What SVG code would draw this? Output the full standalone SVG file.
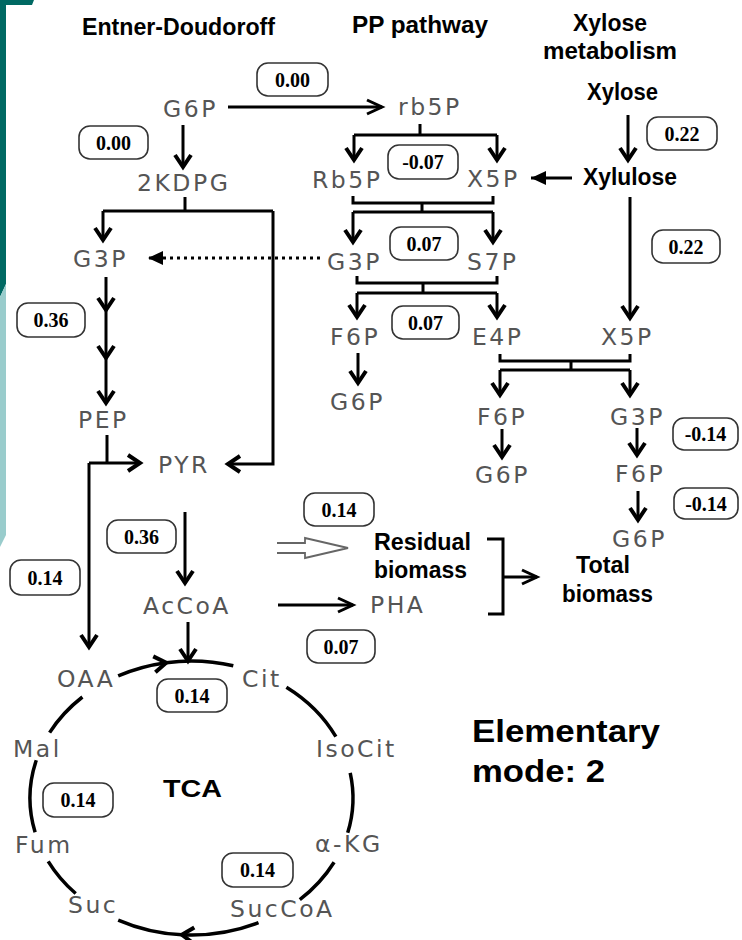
<svg xmlns="http://www.w3.org/2000/svg" width="742" height="940" viewBox="0 0 742 940">
<defs>
<style>
.hdr{font-family:"Liberation Sans",Arial,sans-serif;font-weight:bold;font-size:23px;fill:#000}
.met{font-family:"DejaVu Sans","Liberation Sans",sans-serif;font-size:23.5px;fill:#555;letter-spacing:2.5px}
.val{font-family:"Liberation Serif","Times New Roman",serif;font-weight:bold;font-size:20px;fill:#000;text-anchor:middle}
.box{fill:#fff;stroke:#333;stroke-width:1.6}
.ln{fill:none;stroke:#000;stroke-width:3}
.arc{fill:none;stroke:#000;stroke-width:3.5}
</style>
<marker id="hd" markerUnits="userSpaceOnUse" markerWidth="30" markerHeight="30" orient="auto" overflow="visible" refX="0" refY="0"><path d="M-12,-8 L0,0 L-12,8" fill="none" stroke="#000" stroke-width="4"/></marker>
<marker id="thin" markerUnits="userSpaceOnUse" markerWidth="30" markerHeight="30" orient="auto" overflow="visible" refX="0" refY="0"><path d="M-15,-7 L0,0 L-15,7" fill="none" stroke="#000" stroke-width="3"/></marker>
<marker id="tri" markerUnits="userSpaceOnUse" markerWidth="30" markerHeight="30" orient="auto" overflow="visible" refX="0" refY="0"><path d="M-15,-7 L0,0 L-15,7 Z" fill="#000"/></marker>
</defs>
<rect width="742" height="940" fill="#fff"/>
<path d="M0,0 H34 L32,5 H6 V284 L0,297 Z" fill="#006963"/>
<path d="M0,297 L6,284 V535 L0,547 Z" fill="#99cccc"/>

<g id="headers">
<text class="hdr" x="82" y="35" textLength="193" lengthAdjust="spacingAndGlyphs">Entner-Doudoroff</text>
<text class="hdr" x="352" y="33" textLength="136" lengthAdjust="spacingAndGlyphs">PP pathway</text>
<text class="hdr" x="573" y="31" textLength="74" lengthAdjust="spacingAndGlyphs">Xylose</text>
<text class="hdr" x="543" y="59" textLength="134" lengthAdjust="spacingAndGlyphs">metabolism</text>
</g>

<g id="connectors">
<line class="ln" x1="228" y1="107" x2="382" y2="107" marker-end="url(#thin)"/>
<line class="ln" x1="183" y1="125" x2="183" y2="167" marker-end="url(#hd)"/>
<path class="ln" d="M420,124 V135 M354,135 H497"/>
<line class="ln" x1="354" y1="135" x2="354" y2="160" marker-end="url(#hd)"/>
<line class="ln" x1="497" y1="135" x2="497" y2="160" marker-end="url(#hd)"/>
<line class="ln" x1="628" y1="115" x2="628" y2="160" marker-end="url(#hd)"/>
<line class="ln" x1="572" y1="178" x2="531" y2="178" marker-end="url(#tri)"/>
<path class="ln" d="M353,196 V203 H493 V196 M422,203 V212 M353,212 H493"/>
<line class="ln" x1="353" y1="212" x2="353" y2="242" marker-end="url(#hd)"/>
<line class="ln" x1="493" y1="212" x2="493" y2="242" marker-end="url(#hd)"/>
<line x1="320" y1="258" x2="148" y2="258" stroke="#000" stroke-width="3" stroke-dasharray="3 4" marker-end="url(#tri)"/>
<path class="ln" d="M357,276 V283 H497 V276 M423,283 V293 M357,293 H497"/>
<line class="ln" x1="357" y1="293" x2="357" y2="317" marker-end="url(#hd)"/>
<line class="ln" x1="497" y1="293" x2="497" y2="317" marker-end="url(#hd)"/>
<line class="ln" x1="630" y1="197" x2="630" y2="318" marker-end="url(#hd)"/>
<path class="ln" d="M500,354 V361 H630 V354 M571,361 V370 M500,370 H630"/>
<line class="ln" x1="500" y1="370" x2="500" y2="395" marker-end="url(#hd)"/>
<line class="ln" x1="630" y1="370" x2="630" y2="395" marker-end="url(#hd)"/>
<line class="ln" x1="358" y1="353" x2="358" y2="383" marker-end="url(#hd)"/>
<line class="ln" x1="502" y1="429" x2="502" y2="457" marker-end="url(#hd)"/>
<line class="ln" x1="637" y1="428" x2="637" y2="455" marker-end="url(#hd)"/>
<line class="ln" x1="638" y1="491" x2="638" y2="520" marker-end="url(#hd)"/>
<path class="ln" d="M185,197 V211 M103,211 H273"/>
<line class="ln" x1="103" y1="211" x2="103" y2="240" marker-end="url(#hd)"/>
<path class="ln" d="M273,211 V464 H228" marker-end="url(#hd)"/>
<line class="ln" x1="106" y1="277" x2="106" y2="310" marker-end="url(#hd)"/>
<line class="ln" x1="106" y1="310" x2="106" y2="358" marker-end="url(#hd)"/>
<line class="ln" x1="106" y1="358" x2="106" y2="403" marker-end="url(#hd)"/>
<path class="ln" d="M107,435 V463"/>
<path class="ln" d="M89,463 H140" marker-end="url(#hd)"/>
<path class="ln" d="M89,463 V647" marker-end="url(#hd)"/>
<line class="ln" x1="185" y1="512" x2="185" y2="583" marker-end="url(#hd)"/>
<path d="M277,543 H305 V538 L348,548 L305,558 V553 H277" fill="#fff" stroke="#666" stroke-width="1.8"/>
<line class="ln" x1="278" y1="605" x2="353" y2="605" marker-end="url(#thin)"/>
<path class="ln" d="M487,539 H503 V614 H488"/>
<line class="ln" x1="503" y1="577" x2="537" y2="577" marker-end="url(#thin)"/>
<line class="ln" x1="188" y1="622" x2="188" y2="661" marker-end="url(#hd)"/>
<path class="arc" d="M118.2,675.9 A161.5,137 0 0 1 166.2,662.7" marker-end="url(#hd)"/>
<path class="arc" d="M166.2,662.7 A161.5,137 0 0 1 233.3,665.7"/>
<path class="arc" d="M286.4,687.2 A161.5,137 0 0 1 335.9,736.7"/>
<path class="arc" d="M350.2,772.8 A161.5,137 0 0 1 347.7,832.8"/>
<path class="arc" d="M334.1,862.3 A161.5,137 0 0 1 299.8,899.7"/>
<path class="arc" d="M258.5,922.7 A161.5,137 0 0 1 181.9,934.8" marker-end="url(#hd)"/>
<path class="arc" d="M181.9,934.8 A161.5,137 0 0 1 118.2,920.1"/>
<path class="arc" d="M75.7,893.5 A161.5,137 0 0 1 48.2,861.3"/>
<path class="arc" d="M35.1,832.3 A161.5,137 0 0 1 36.3,760.2"/>
<path class="arc" d="M49.6,732.6 A161.5,137 0 0 1 82.4,697"/>
</g>

<g id="n_g6p_top"><text class="met" x="163" y="117">G6P</text></g>
<g id="n_rb5p"><text class="met" x="398" y="115">rb5P</text></g>
<g id="n_2kdpg"><text class="met" x="137" y="191">2KDPG</text></g>
<g id="n_Rb5P"><text class="met" x="312" y="188">Rb5P</text></g>
<g id="n_x5p_pp"><text class="met" x="467" y="187">X5P</text></g>
<g id="n_g3p_ed"><text class="met" x="73" y="267">G3P</text></g>
<g id="n_g3p_pp"><text class="met" x="327" y="270">G3P</text></g>
<g id="n_s7p"><text class="met" x="467" y="270">S7P</text></g>
<g id="n_f6p_pp"><text class="met" x="330" y="345">F6P</text></g>
<g id="n_e4p"><text class="met" x="472" y="345">E4P</text></g>
<g id="n_x5p_xyl"><text class="met" x="601" y="345">X5P</text></g>
<g id="n_g6p_pp"><text class="met" x="330" y="410">G6P</text></g>
<g id="n_f6p_mid"><text class="met" x="477" y="425">F6P</text></g>
<g id="n_g3p_xyl"><text class="met" x="610" y="425">G3P</text></g>
<g id="n_g6p_mid"><text class="met" x="475" y="483">G6P</text></g>
<g id="n_f6p_xyl"><text class="met" x="615" y="482">F6P</text></g>
<g id="n_g6p_xyl"><text class="met" x="612" y="547">G6P</text></g>
<g id="n_pep"><text class="met" x="78" y="428">PEP</text></g>
<g id="n_pyr"><text class="met" x="158" y="473">PYR</text></g>
<g id="n_accoa"><text class="met" x="143" y="614">AcCoA</text></g>
<g id="n_pha"><text class="met" x="370" y="613">PHA</text></g>
<g id="n_oaa"><text class="met" x="57" y="687">OAA</text></g>
<g id="n_cit"><text class="met" x="242" y="687">Cit</text></g>
<g id="n_isocit"><text class="met" x="316" y="757">IsoCit</text></g>
<g id="n_mal"><text class="met" x="13" y="757">Mal</text></g>
<g id="n_fum"><text class="met" x="15" y="853">Fum</text></g>
<g id="n_akg"><text class="met" x="315" y="852">α-KG</text></g>
<g id="n_suc"><text class="met" x="68" y="913">Suc</text></g>
<g id="n_succoa"><text class="met" x="230" y="917">SucCoA</text></g>

<g id="n_xylose"><text class="hdr" x="587" y="100" textLength="71" lengthAdjust="spacingAndGlyphs">Xylose</text></g>
<g id="n_xylulose"><text class="hdr" x="583" y="185" textLength="94" lengthAdjust="spacingAndGlyphs">Xylulose</text></g>
<g id="n_residual"><text class="hdr" x="374" y="550" textLength="97" lengthAdjust="spacingAndGlyphs">Residual</text><text class="hdr" x="374" y="578" textLength="93" lengthAdjust="spacingAndGlyphs">biomass</text></g>
<g id="n_total"><text class="hdr" x="576" y="573" textLength="54" lengthAdjust="spacingAndGlyphs">Total</text><text class="hdr" x="562" y="602" textLength="91" lengthAdjust="spacingAndGlyphs">biomass</text></g>
<g id="n_tca"><text class="hdr" x="163" y="797" font-size="25" textLength="59" lengthAdjust="spacingAndGlyphs">TCA</text></g>
<g id="n_mode"><text class="hdr" x="472" y="742" style="font-size:31px" textLength="188" lengthAdjust="spacingAndGlyphs">Elementary</text><text class="hdr" x="472" y="782" style="font-size:31px" textLength="133" lengthAdjust="spacingAndGlyphs">mode: 2</text></g>

<g id="flux_labels">
<g id="f1"><rect class="box" x="257" y="63" width="71" height="33" rx="11"/><text class="val" x="292.5" y="86.5">0.00</text></g>
<g id="f2"><rect class="box" x="79" y="126" width="69" height="33" rx="11"/><text class="val" x="113.5" y="149.5">0.00</text></g>
<g id="f3"><rect class="box" x="388" y="145" width="70" height="34" rx="11"/><text class="val" x="423" y="169">-0.07</text></g>
<g id="f4"><rect class="box" x="647" y="117" width="70" height="33" rx="11"/><text class="val" x="682" y="140.5">0.22</text></g>
<g id="f5"><rect class="box" x="390" y="227" width="68" height="33" rx="11"/><text class="val" x="424" y="250.5">0.07</text></g>
<g id="f6"><rect class="box" x="652" y="230" width="68" height="33" rx="11"/><text class="val" x="686" y="253.5">0.22</text></g>
<g id="f7"><rect class="box" x="17" y="303" width="68" height="34" rx="11"/><text class="val" x="51" y="327">0.36</text></g>
<g id="f8"><rect class="box" x="392" y="306" width="67" height="33" rx="11"/><text class="val" x="425.5" y="329.5">0.07</text></g>
<g id="f9"><rect class="box" x="673" y="418" width="65" height="32" rx="11"/><text class="val" x="705.5" y="441">-0.14</text></g>
<g id="f10"><rect class="box" x="674" y="488" width="64" height="31" rx="11"/><text class="val" x="706" y="510.5">-0.14</text></g>
<g id="f11"><rect class="box" x="304" y="493" width="70" height="33" rx="11"/><text class="val" x="339" y="516.5">0.14</text></g>
<g id="f12"><rect class="box" x="107" y="520" width="69" height="33" rx="11"/><text class="val" x="141.5" y="543.5">0.36</text></g>
<g id="f13"><rect class="box" x="10" y="560" width="70" height="35" rx="11"/><text class="val" x="45" y="584.5">0.14</text></g>
<g id="f14"><rect class="box" x="307" y="630" width="68" height="33" rx="11"/><text class="val" x="341" y="653.5">0.07</text></g>
<g id="f15"><rect class="box" x="157" y="679" width="70" height="33" rx="11"/><text class="val" x="192" y="702.5">0.14</text></g>
<g id="f16"><rect class="box" x="43" y="783" width="70" height="34" rx="11"/><text class="val" x="78" y="807">0.14</text></g>
<g id="f17"><rect class="box" x="222" y="853" width="71" height="34" rx="11"/><text class="val" x="257.5" y="877">0.14</text></g>
</g>
</svg>
